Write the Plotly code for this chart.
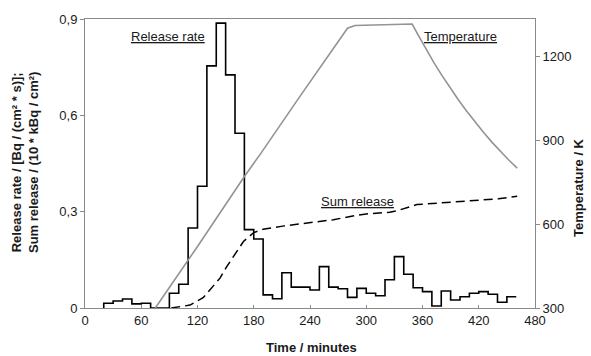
import plotly.graph_objects as go

# ---- data ----
bin_start = list(range(20, 460, 10))
bin_end = 460
release_rate = [0.015, 0.022, 0.028, 0.013, 0.015, 0.0, 0.0, 0.046, 0.074, 0.249,
                0.379, 0.754, 0.887, 0.726, 0.544, 0.244, 0.215, 0.041, 0.029, 0.110,
                0.065, 0.065, 0.056, 0.129, 0.065, 0.060, 0.033, 0.061, 0.046, 0.038,
                0.088, 0.160, 0.105, 0.063, 0.051, 0.006, 0.053, 0.025, 0.035, 0.046,
                0.051, 0.043, 0.018, 0.035]

temp_time = [75, 120, 170, 187, 230, 280, 288, 300, 320, 345, 349, 355, 360, 365,
             372, 380, 389, 398, 407, 416, 425, 434, 443, 452, 461]
temp_K = [300, 520, 770, 850, 1060, 1300, 1310, 1311, 1312, 1315, 1315, 1278, 1248,
          1218, 1178, 1135, 1089, 1045, 1004, 965, 928, 893, 860, 829, 800]

sum_time = [92, 112, 126, 130, 144, 151, 158, 169, 180, 190, 211, 247, 265, 283,
            300, 325, 333, 354, 389, 425, 441, 461]
sum_release = [0.0, 0.009, 0.032, 0.046, 0.093, 0.128, 0.158, 0.207, 0.235, 0.245,
               0.255, 0.268, 0.275, 0.285, 0.293, 0.298, 0.303, 0.322, 0.329, 0.337,
               0.340, 0.348]

x_ticks = [0, 60, 120, 180, 240, 300, 360, 420, 480]
y_ticks = [0, 0.3, 0.6, 0.9]
y_tick_text = ["0", "0,3", "0,6", "0,9"]
t_ticks = [300, 600, 900, 1200]

# step-curve points
step_x = [bin_start[0]] + bin_start + [bin_end]
step_y = [0.0] + release_rate + [release_rate[-1]]

fig = go.Figure()
fig.add_trace(go.Scatter(x=temp_time, y=temp_K, mode="lines", yaxis="y2",
                         line=dict(color="#939393", width=1.6), showlegend=False))
fig.add_trace(go.Scatter(x=step_x, y=step_y, mode="lines", line_shape="hv",
                         line=dict(color="black", width=1.6), showlegend=False))
fig.add_trace(go.Scatter(x=sum_time, y=sum_release, mode="lines",
                         line=dict(color="black", width=1.5, dash="9px,5px"),
                         showlegend=False))

font = dict(family="Liberation Sans, Arial, sans-serif", color="#1a1a1a")
FS = 13

fig.update_layout(
    width=591, height=356,
    margin=dict(l=85, r=56, t=19, b=48),
    paper_bgcolor="white", plot_bgcolor="white",
    font=dict(size=FS, **font),
    xaxis=dict(range=[0, 480], tickvals=x_ticks, showgrid=False, zeroline=False,
               showline=True, linecolor="#8a8a8a", linewidth=1, mirror=True,
               ticks="inside", ticklen=3, tickcolor="#8a8a8a",
               tickfont=dict(size=FS, **font)),
    yaxis=dict(range=[0, 0.9], tickvals=y_ticks, ticktext=y_tick_text,
               showgrid=False, zeroline=False, showline=True, linecolor="#8a8a8a",
               linewidth=1, ticks="outside", ticklen=4, tickcolor="#8a8a8a",
               tickfont=dict(size=FS, **font)),
    yaxis2=dict(range=[300, 1333], tickvals=t_ticks, overlaying="y", side="right",
                showgrid=False, zeroline=False, showline=True, linecolor="#8a8a8a",
                linewidth=1, ticks="outside", ticklen=4, tickcolor="#8a8a8a",
                tickfont=dict(size=FS, **font)),
)

ann = [
    dict(text="<u>Release rate</u>", x=88.5, y=0.847, xref="x", yref="y"),
    dict(text="<u>Temperature</u>", x=400, y=0.847, xref="x", yref="y"),
    dict(text="<u>Sum release</u>", x=291, y=0.331, xref="x", yref="y"),
]
for a in ann:
    fig.add_annotation(showarrow=False, xanchor="center", yanchor="middle",
                       font=dict(size=FS, **font), **a)

# axis titles
fig.add_annotation(text="<b>Time / minutes</b>", xref="paper", yref="paper",
                   x=(311 - 85) / 450, y=-(348 - 308) / 289, showarrow=False,
                   xanchor="center", yanchor="middle", font=dict(size=13, **font))
fig.add_annotation(text="<b>Release rate / [Bq / (cm² * s)];<br>Sum release / (10 * kBq / cm²)</b>",
                   xref="paper", yref="paper", x=(25 - 85) / 450, y=(308 - 163) / 289,
                   textangle=-90, showarrow=False, xanchor="center", yanchor="middle",
                   font=dict(size=13, **font))
fig.add_annotation(text="<b>Temperature / K</b>", xref="paper", yref="paper",
                   x=(578 - 85) / 450, y=(308 - 188) / 289, textangle=-90,
                   showarrow=False, xanchor="center", yanchor="middle",
                   font=dict(size=13, **font))

fig.write_html("out.html")
